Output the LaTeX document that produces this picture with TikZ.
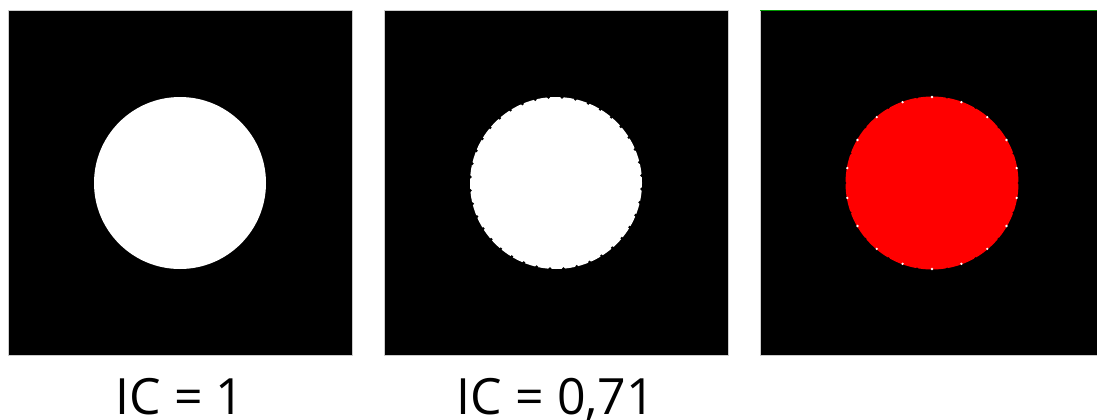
\documentclass[tikz,border=0pt]{standalone}
\usepackage{fontspec}
\setmainfont{Open Sans}
\begin{document}
\begin{tikzpicture}[x=1pt,y=-1pt,
  panel/.style={fill=black,draw=black!20,line width=0.8pt},
  disc/.style={fill=white},
  lbl/.style={font=\fontsize{50}{60}\selectfont,anchor=base}]
\useasboundingbox (0,0) rectangle (1097,420);
\fill[white] (0,0) rectangle (1097,420);
% panel 1
\node[panel,minimum width=344pt,minimum height=345pt,inner sep=0,anchor=north west] (p1) at (8,10) {};
\fill[disc] (180,183) circle (86);
% panel 2
\node[panel,minimum width=344pt,minimum height=345pt,inner sep=0,anchor=north west] (p2) at (384,10) {};
\fill[disc] (556,183) circle (86);
\foreach \a in {0,9,...,351} {
  \fill[black] ({556+86*cos(\a+4)},{183+86*sin(\a+4)}) circle (1.6);
}
% panel 3
\node[panel,minimum width=337pt,minimum height=345pt,inner sep=0,anchor=north west] (p3) at (760,10) {};
\draw[green!60!black,line width=1.2pt] (760,10.5) -- (1097,10.5);
\fill[red] (932,183) circle (86.5);
\foreach \a in {0,20,...,340} {
  \fill[white] ({932+86*cos(\a+10)},{183+86*sin(\a+10)}) circle (1.3);
}
\foreach \a in {0,20,...,340} {
  \fill[black] ({932+87*cos(\a)},{183+87*sin(\a)}) circle (1.3);
}
% labels
\node[lbl] (l1) at (180,414) {IC = 1};
\node[lbl] (l2) at (556,414) {IC = 0,71};
\end{tikzpicture}
\end{document}
